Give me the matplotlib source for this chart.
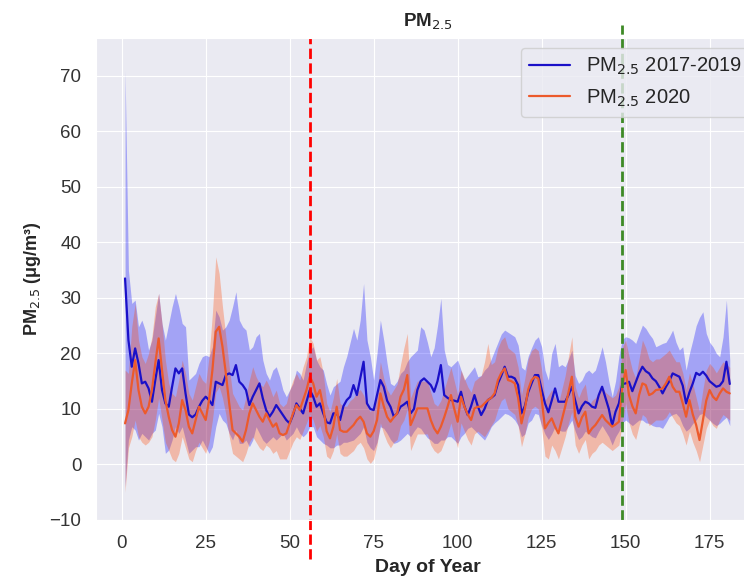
import numpy as np
import matplotlib
matplotlib.use("Agg")
import matplotlib.pyplot as plt
import seaborn as sns

# daily PM2.5 (ug/m3), day of year 1..181
days = np.arange(1, 182)

blue_mean = [
    33.5, 22.4, 17.6, 20.9, 18.2, 14.6, 14.9, 13.7, 11.3, 15.2,
    18.8, 13.4, 11.0, 10.4, 14.0, 17.3, 16.4, 17.3, 12.8, 9.0,
    8.5, 9.0, 10.4, 11.5, 12.2, 11.6, 10.7, 14.9, 14.6, 14.3,
    16.1, 16.4, 16.1, 17.9, 14.9, 14.3, 13.4, 10.7, 12.2, 13.4,
    14.6, 11.9, 9.8, 8.6, 9.5, 10.7, 9.8, 8.9, 8.0, 7.4,
    8.9, 11.0, 10.1, 9.2, 11.3, 13.4, 12.2, 10.4, 11.0, 9.2,
    7.6, 7.4, 9.2, 9.2, 8.0, 10.5, 11.6, 12.2, 14.3, 12.5,
    15.5, 18.5, 11.0, 10.0, 9.8, 12.5, 15.2, 14.0, 11.5, 10.4,
    8.6, 9.2, 10.4, 10.8, 11.3, 9.2, 10.0, 13.4, 15.0, 15.5,
    14.9, 14.3, 13.1, 15.0, 17.9, 12.5, 12.0, 11.6, 11.5, 11.3,
    13.1, 10.5, 8.9, 10.5, 12.5, 10.5, 8.9, 10.0, 11.6, 12.0,
    12.5, 14.6, 16.0, 17.6, 15.8, 15.8, 15.5, 14.3, 9.2, 10.5,
    13.0, 14.6, 16.1, 16.1, 13.5, 11.0, 9.4, 11.5, 13.7, 11.3,
    11.3, 11.3, 12.5, 14.0, 11.5, 9.2, 10.5, 11.3, 11.0, 10.4,
    10.2, 12.5, 14.0, 12.0, 10.0, 7.0, 9.5, 11.0, 14.5, 14.6,
    14.9, 13.2, 14.8, 16.4, 17.6, 16.8, 16.4, 15.5, 15.0, 14.0,
    12.8, 14.0, 15.0, 16.4, 16.1, 15.8, 14.2, 11.0, 13.0, 14.6,
    16.5, 16.1, 16.7, 16.0, 15.0, 14.5, 14.0, 14.2, 15.0, 18.5,
    14.5]

blue_upper = [
    71.0, 35.0, 29.0, 29.6, 24.8, 26.0, 24.2, 20.6, 22.4, 26.6,
    30.8, 25.4, 22.4, 25.4, 28.4, 30.8, 28.4, 25.4, 24.8, 15.2,
    15.8, 16.4, 18.2, 19.4, 19.7, 19.4, 21.2, 27.8, 26.6, 24.2,
    24.8, 26.0, 28.4, 31.1, 26.0, 24.8, 24.2, 20.6, 21.2, 23.0,
    23.6, 18.8, 16.4, 15.2, 17.0, 17.6, 15.8, 13.4, 12.2, 13.4,
    14.6, 17.0, 16.4, 15.2, 18.2, 20.6, 21.2, 18.8, 17.6, 17.0,
    14.5, 12.5, 14.0, 14.5, 15.0, 17.6, 19.5, 22.0, 24.5, 22.4,
    26.0, 32.6, 22.4, 19.4, 15.2, 20.0, 26.0, 22.4, 18.2, 14.6,
    14.2, 15.0, 16.4, 17.0, 18.5, 19.4, 20.0, 20.6, 24.8, 24.2,
    22.0, 19.4, 21.0, 25.0, 29.9, 20.6, 18.0, 17.6, 18.2, 18.8,
    17.0, 15.2, 16.0, 16.8, 17.6, 15.8, 16.0, 17.0, 17.6, 19.0,
    20.5, 22.0, 23.5, 24.2, 23.8, 23.4, 23.0, 21.5, 17.5, 17.0,
    19.5, 21.0, 22.4, 23.0, 21.2, 17.0, 15.2, 20.0, 21.8, 17.6,
    18.0, 17.6, 19.0, 20.6, 16.0, 14.6, 15.2, 16.5, 17.0, 16.4,
    17.0, 19.0, 21.2, 18.5, 15.0, 12.2, 15.0, 19.5, 22.5, 23.0,
    22.8, 22.4, 21.8, 23.5, 25.1, 24.5, 23.5, 22.7, 21.2, 21.5,
    21.8, 22.0, 23.0, 24.2, 22.0, 20.6, 21.2, 17.0, 20.0, 22.4,
    25.0, 26.5, 27.5, 23.6, 22.0, 21.2, 20.0, 19.4, 23.0, 29.6,
    18.8]

blue_lower = [
    -4.0, 4.4, 6.8, 6.2, 4.4, 5.6, 5.0, 4.4, 5.6, 6.2,
    9.2, 6.8, 2.0, 2.6, 4.4, 6.8, 5.6, 6.8, 4.4, 2.0,
    2.6, 3.2, 3.2, 4.4, 3.2, 2.0, 3.2, 6.8, 9.2, 8.0,
    7.4, 5.6, 4.4, 6.2, 3.8, 3.8, 4.4, 3.2, 4.4, 6.8,
    5.6, 4.4, 3.8, 4.4, 5.0, 4.4, 5.0, 5.6, 4.4, 5.0,
    5.6, 6.8, 5.6, 5.0, 5.6, 6.8, 6.8, 5.0, 4.4, 3.8,
    3.5, 3.0, 3.0, 3.5, 3.5, 4.0, 4.0, 4.2, 4.4, 5.0,
    5.6, 6.8, 4.0, 3.0, 2.5, 4.0, 6.8, 6.5, 5.6, 4.5,
    3.8, 4.0, 4.4, 5.0, 5.6, 5.0, 6.0, 6.8, 6.5, 5.6,
    4.8, 4.4, 3.8, 3.8, 4.4, 4.4, 5.0, 5.0, 4.4, 3.8,
    5.0, 5.6, 6.5, 6.8, 6.2, 5.6, 5.0, 4.4, 5.5, 6.8,
    7.5, 8.0, 8.6, 9.2, 9.0, 8.6, 8.0, 7.0, 5.0, 5.5,
    7.5, 8.0, 9.2, 9.0, 7.0, 5.5, 4.5, 5.5, 6.8, 6.2,
    6.0, 6.0, 7.0, 8.0, 6.0, 4.5, 5.0, 6.0, 5.5, 5.0,
    4.8, 6.0, 7.0, 6.0, 5.0, 3.5, 5.0, 6.0, 7.5, 8.0,
    7.5, 7.0, 7.5, 8.0, 8.0, 7.5, 7.4, 7.0, 6.8, 6.8,
    6.5, 7.5, 8.6, 9.0, 9.2, 8.5, 7.0, 6.0, 6.5, 7.4,
    8.0, 9.0, 9.2, 8.5, 8.0, 7.4, 7.0, 7.4, 8.0, 8.5,
    7.0]

orange_mean = [
    7.4, 9.8, 14.6, 18.8, 13.4, 10.4, 9.2, 10.4, 13.4, 18.2,
    22.7, 17.0, 11.6, 8.6, 6.2, 5.0, 7.4, 11.6, 9.8, 6.8,
    5.6, 8.0, 10.4, 9.2, 8.0, 11.6, 17.0, 23.9, 24.8, 21.2,
    16.4, 11.0, 6.2, 5.6, 5.0, 4.1, 6.2, 9.2, 11.0, 9.8,
    8.6, 7.7, 9.2, 8.0, 6.8, 7.4, 5.6, 5.3, 5.6, 7.4,
    9.2, 10.7, 9.8, 11.6, 13.4, 15.8, 14.6, 12.2, 13.4, 10.4,
    6.0, 4.7, 6.8, 10.4, 6.2, 5.9, 5.9, 6.5, 7.1, 8.0,
    8.6, 7.7, 5.6, 5.0, 6.0, 8.0, 12.8, 10.5, 8.6, 7.7,
    8.5, 9.2, 12.2, 13.5, 16.1, 7.1, 8.5, 10.1, 10.1, 10.1,
    10.1, 8.0, 6.5, 5.6, 6.8, 8.5, 10.4, 12.5, 10.0, 7.7,
    12.2, 10.4, 9.0, 8.0, 10.1, 10.4, 10.4, 11.0, 11.6, 12.0,
    12.8, 15.2, 16.5, 17.3, 15.2, 15.0, 14.6, 12.0, 7.4, 10.0,
    13.5, 15.2, 15.8, 15.5, 11.9, 6.5, 7.5, 8.3, 6.8, 5.6,
    8.0, 10.4, 13.0, 15.8, 8.6, 6.8, 8.5, 9.5, 5.6, 6.5,
    7.1, 8.0, 8.9, 8.0, 7.4, 6.8, 7.2, 7.7, 14.0, 17.0,
    12.5, 10.5, 9.2, 12.5, 14.6, 14.3, 12.5, 12.8, 13.4, 13.5,
    13.7, 14.6, 15.8, 14.0, 13.1, 13.1, 11.0, 8.6, 11.6, 9.0,
    7.1, 4.4, 8.0, 11.5, 13.4, 12.2, 11.6, 12.8, 13.7, 13.1,
    12.8]

orange_upper = [
    17.0, 16.4, 24.8, 29.0, 22.4, 19.4, 18.2, 20.0, 23.0, 28.4,
    30.8, 25.4, 18.8, 14.6, 12.8, 12.2, 15.2, 18.8, 16.4, 12.8,
    11.6, 14.0, 16.4, 15.2, 14.6, 19.4, 27.2, 37.4, 34.4, 28.4,
    23.0, 17.6, 12.8, 11.6, 10.4, 9.8, 12.2, 15.2, 17.6, 15.8,
    14.6, 14.0, 15.2, 14.0, 12.2, 13.4, 11.0, 10.4, 11.0, 13.4,
    15.2, 16.4, 15.2, 17.6, 19.4, 23.0, 21.8, 18.8, 19.4, 16.4,
    11.0, 9.5, 12.0, 15.5, 11.0, 10.5, 10.5, 11.5, 12.0, 13.0,
    13.5, 12.5, 10.5, 9.5, 10.5, 13.0, 18.5, 15.5, 13.5, 12.5,
    13.5, 14.5, 18.0, 21.0, 23.6, 12.0, 13.5, 15.0, 15.0, 15.0,
    15.0, 13.0, 11.0, 10.5, 11.5, 13.5, 15.5, 17.5, 15.0, 12.5,
    17.0, 15.5, 14.0, 13.0, 15.0, 15.5, 16.0, 18.5, 21.8, 18.0,
    18.5, 21.0, 22.4, 23.0, 21.0, 20.5, 20.0, 17.5, 12.5, 15.5,
    19.0, 20.5, 21.0, 20.5, 17.0, 11.5, 12.5, 13.5, 12.0, 11.0,
    13.5, 16.0, 19.5, 23.0, 14.0, 12.0, 13.5, 14.5, 10.5, 11.5,
    12.0, 13.0, 14.0, 13.0, 12.5, 12.0, 12.5, 14.0, 21.0, 22.4,
    19.5, 17.0, 15.5, 19.0, 22.4, 21.0, 19.0, 18.5, 19.0, 19.0,
    19.5, 20.0, 20.6, 19.5, 18.5, 18.5, 16.5, 13.5, 16.5, 14.5,
    12.0, 9.5, 13.5, 17.0, 18.2, 17.5, 16.5, 17.5, 18.5, 18.0,
    17.5]

orange_lower = [
    -5.0, 3.0, 5.0, 8.0, 5.0, 4.0, 3.5, 4.0, 5.0, 8.0,
    12.0, 8.0, 4.0, 2.5, 1.0, 0.5, 2.0, 5.0, 3.0, 1.0,
    0.5, 2.5, 4.0, 3.0, 2.0, 4.0, 8.0, 13.0, 14.0, 12.0,
    9.0, 5.0, 2.0, 1.5, 1.0, 0.5, 2.0, 4.0, 5.0, 4.0,
    3.0, 2.5, 3.5, 3.0, 2.0, 2.5, 1.0, 1.0, 1.0, 2.5,
    4.0, 5.0, 4.5, 6.0, 7.5, 9.0, 8.0, 6.0, 7.0, 5.0,
    1.5, 1.0, 2.5, 5.5, 2.0, 1.5, 1.5, 2.0, 2.5, 3.5,
    4.0, 3.0, 1.0, 0.2, 1.0, 3.5, 7.5, 5.5, 4.0, 3.0,
    4.0, 4.5, 7.0, 8.0, 10.0, 2.5, 4.0, 5.5, 5.5, 5.5,
    5.5, 3.5, 2.5, 2.0, 2.5, 4.0, 5.5, 7.5, 5.0, 3.0,
    7.5, 6.0, 4.5, 3.5, 5.5, 6.0, 5.5, 5.0, 6.0, 7.0,
    8.0, 10.0, 11.5, 12.0, 10.0, 9.5, 9.0, 7.0, 3.2, 5.5,
    8.5, 10.0, 10.5, 10.0, 6.5, 1.5, 1.0, 3.5, 2.5, 1.0,
    3.0, 5.0, 7.5, 9.5, 3.5, 2.0, 3.5, 4.5, 1.0, 2.0,
    2.5, 3.5, 4.0, 3.5, 3.0, 2.5, 3.0, 3.5, 7.5, 11.0,
    7.5, 5.5, 4.5, 7.0, 9.0, 8.5, 7.0, 7.5, 8.0, 8.0,
    8.0, 8.5, 9.5, 8.5, 7.5, 7.0, 5.5, 3.5, 6.0, 4.0,
    2.5, 0.5, 3.5, 6.5, 8.0, 7.0, 6.5, 8.0, 9.0, 8.5,
    8.0]

# reference dates (day of year)
day_red = 56
day_green = 149

sns.set_style("darkgrid")
plt.rcParams['font.family'] = ['Liberation Sans', 'DejaVu Sans']

fig = plt.figure(figsize=(7.44, 5.76), dpi=100)
# axes run past the right edge, the original picture is cropped there
ax = fig.add_axes([96 / 744, 56 / 576, 664 / 744, 482 / 576])

ax.fill_between(days, blue_lower, blue_upper, color='blue', alpha=0.3, lw=0)
ax.fill_between(days, orange_lower, orange_upper, color='orangered', alpha=0.3, lw=0)
ax.plot(days, blue_mean, color='#1a10c8', lw=1.6, label='PM$_{2.5}$ 2017-2019')
ax.plot(days, orange_mean, color='#ec5a2c', lw=1.6, label='PM$_{2.5}$ 2020')

ax.axvline(day_red, ymin=-0.08, ymax=1.0, color='red', ls='--', lw=2, clip_on=False)
ax.axvline(day_green, ymin=0.0, ymax=1.027, color='#3e8a26', ls='--', lw=2, clip_on=False)

ax.set_xlim(-7.65, 190)
ax.set_ylim(-10, 76.8)
ax.set_xticks([0, 25, 50, 75, 100, 125, 150, 175])
ax.set_yticks([-10, 0, 10, 20, 30, 40, 50, 60, 70])
ax.set_yticklabels(['\u221210', '0', '10', '20', '30', '40', '50', '60', '70'])
ax.tick_params(labelsize=13.5, colors='#333333', pad=7)

ax.set_title('PM$_{2.5}$', fontsize=13.5, fontweight='bold', color='#262626', pad=8)
ax.set_xlabel('Day of Year', fontsize=14, fontweight='bold', color='#262626', labelpad=5)
ax.set_ylabel('PM$_{2.5}$ (\u03bcg/m\u00b3)', fontsize=13, fontweight='bold',
              color='#262626', labelpad=5)
ax.legend(loc='upper right', fontsize=14.5)

fig.savefig('out.png', dpi=100)
